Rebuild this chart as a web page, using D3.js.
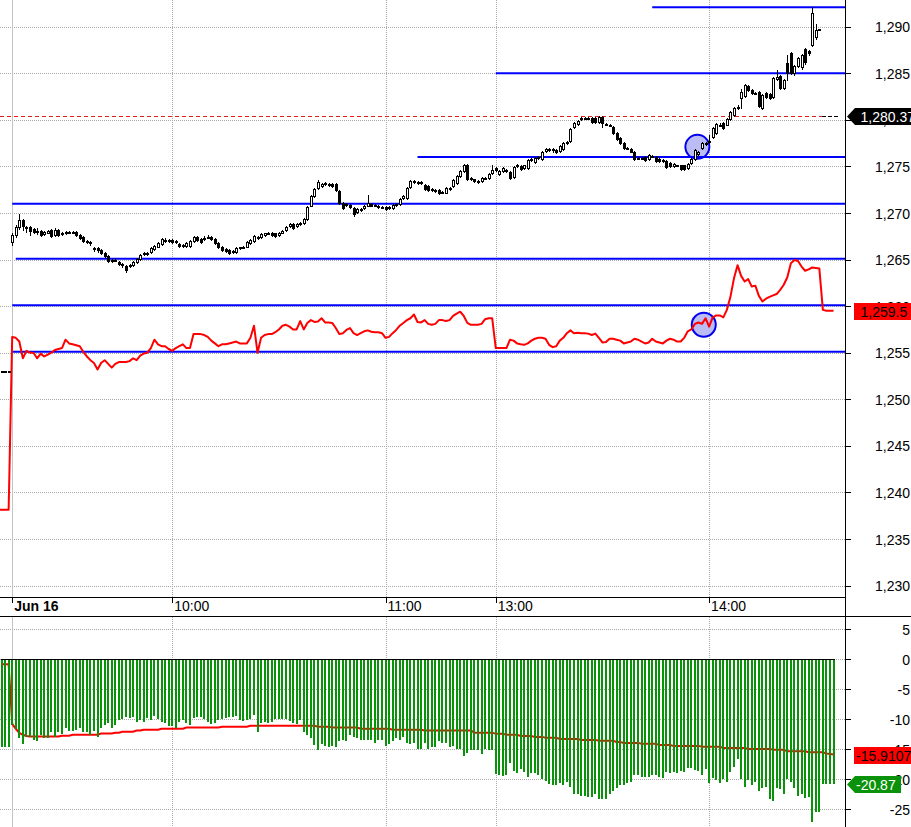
<!DOCTYPE html>
<html><head><meta charset="utf-8">
<script src="https://cdn.jsdelivr.net/npm/d3@7/dist/d3.min.js"></script>
<style>
html,body{margin:0;padding:0;background:#fff;}
svg{display:block;font-family:"Liberation Sans",Arial,sans-serif;}
</style></head><body>
<svg id="chart" width="911" height="827"></svg>
<script>
// ---------------- DATA ----------------
// bar index 0 = 09:15 on Jun 16 (1-minute bars, lunch break 11:30-13:00)
const candleFirstBar = -3;
const candleOpen = [1253.0,1253.0,1253.0,
1266.9,1267.6,1268.5,1269.2,1268.5,1268.5,1268.3,1268.1,1268.1,1267.7,
1267.9,1268.2,1267.6,1268.2,1267.9,1267.8,1268.0,1268.0,1268.0,1267.6,
1267.4,1267.0,1266.9,1266.1,1266.2,1266.0,1265.7,1265.4,1265.0,1265.0,
1264.7,1264.5,1264.3,1264.3,1264.4,1264.7,1265.1,1265.6,1265.7,1265.8,
1266.1,1266.4,1266.7,1267.1,1267.0,1267.1,1266.9,1266.7,1266.5,1266.5,
1266.5,1267.0,1267.4,1267.2,1267.2,1267.4,1267.4,1267.2,1266.8,1266.4,
1266.1,1266.0,1265.8,1265.8,1266.2,1266.3,1266.4,1266.8,1267.0,1267.4,
1267.4,1267.6,1267.8,1267.9,1267.8,1267.6,1267.9,1268.2,1268.6,1268.8,
1268.6,1268.8,1268.9,1269.4,1270.8,1271.8,1272.7,1272.9,1273.1,1273.0,
1273.1,1273.1,1272.4,1271.1,1270.9,1270.9,1270.5,1270.1,1270.4,1270.5,
1270.8,1271.0,1270.9,1270.8,1270.6,1270.6,1270.5,1270.5,1270.9,1271.0,
1271.6,1271.6,1272.8,1273.4,1273.3,1273.2,1273.0,1272.9,1272.6,1272.5,
1272.5,1272.2,1272.2,1272.7,1272.9,1273.2,1274.0,1274.5,1275.2,1273.7,
1273.6,1273.4,1273.4,1273.8,1273.8,1274.3,1274.8,1274.2,1274.5,1274.6,
1274.4,1273.9,1275.2,1275.0,1274.8,1274.8,1275.7,1275.5,1275.9,1275.8,
1276.7,1276.9,1276.9,1276.8,1276.7,1276.9,1277.5,1277.7,1279.2,1279.6,
1280.1,1280.2,1280.2,1280.2,1280.2,1279.8,1280.3,1279.6,1279.5,1279.2,
1278.6,1278.1,1277.5,1277.0,1276.9,1276.6,1275.9,1275.9,1276.0,1275.8,
1276.1,1276.0,1275.8,1275.7,1275.6,1275.4,1275.0,1275.1,1275.1,1275.1,
1274.8,1275.4,1275.8,1276.3,1277.0,1277.5,1277.6,1278.2,1278.6,1279.5,
1279.7,1279.5,1280.1,1280.5,1281.3,1282.3,1282.6,1283.6,1283.2,1282.9,
1283.0,1281.3,1282.9,1282.8,1282.4,1284.4,1284.7,1283.4,1286.1,1287.2,
1285.0,1285.8,1285.7,1287.6,1287.4,1288.0,1288.9,1289.7];
const candleHigh = [1253.0,1253.0,1253.0,
1267.8,1268.7,1269.9,1269.4,1268.6,1268.6,1268.4,1268.4,1268.2,1268.1,
1268.2,1268.3,1268.4,1268.3,1268.0,1268.1,1268.1,1268.1,1268.1,1267.7,
1267.5,1267.1,1267.0,1266.4,1266.4,1266.1,1265.8,1265.5,1265.1,1265.2,
1264.8,1264.6,1264.4,1264.5,1264.8,1265.2,1265.6,1265.8,1265.8,1266.3,
1266.6,1266.9,1267.3,1267.3,1267.2,1267.2,1267.1,1266.8,1266.7,1266.9,
1267.1,1267.5,1267.5,1267.3,1267.5,1267.6,1267.5,1267.3,1266.9,1266.5,
1266.2,1266.1,1266.0,1266.3,1266.4,1266.5,1267.0,1267.2,1267.6,1267.5,
1267.8,1267.9,1268.0,1268.0,1267.9,1268.0,1268.2,1268.6,1268.9,1268.9,
1268.9,1269.0,1269.5,1270.7,1271.9,1272.7,1273.5,1273.2,1273.3,1273.2,
1273.2,1273.2,1272.5,1271.2,1271.1,1271.0,1270.6,1270.5,1270.5,1270.9,
1271.9,1271.1,1271.0,1270.9,1270.7,1270.7,1270.7,1271.0,1271.1,1271.6,
1271.9,1272.8,1273.5,1273.5,1273.4,1273.4,1273.1,1273.0,1272.7,1272.6,
1272.6,1272.4,1272.8,1272.8,1273.6,1274.1,1274.6,1275.3,1275.3,1273.9,
1273.7,1273.5,1273.9,1273.9,1274.3,1275.1,1274.9,1274.6,1274.9,1274.7,
1274.5,1275.0,1275.3,1275.1,1275.2,1275.8,1275.9,1276.0,1276.1,1276.7,
1277.0,1277.0,1277.0,1276.9,1277.3,1277.6,1277.7,1279.1,1279.8,1280.0,
1280.3,1280.3,1280.3,1280.3,1280.3,1280.4,1280.4,1279.7,1279.6,1279.3,
1278.7,1278.2,1277.6,1277.1,1277.0,1276.7,1276.0,1276.0,1276.1,1276.3,
1276.2,1276.1,1275.9,1275.8,1275.7,1275.5,1275.4,1275.2,1275.2,1275.2,
1275.4,1275.9,1276.9,1276.7,1277.6,1277.6,1278.4,1279.2,1279.7,1279.7,
1279.8,1280.2,1280.9,1281.4,1281.6,1283.3,1283.8,1283.7,1283.3,1283.0,
1283.1,1282.8,1283.0,1282.9,1284.6,1285.4,1284.8,1284.4,1287.0,1287.3,
1285.9,1286.7,1287.1,1287.7,1287.5,1292.1,1290.3,1289.8];
const candleLow = [1253.0,1253.0,1253.0,
1266.6,1267.4,1268.3,1268.2,1268.0,1267.6,1267.9,1267.7,1267.5,1267.6,
1267.8,1267.4,1267.5,1267.5,1267.6,1267.7,1267.8,1267.8,1267.5,1267.2,
1266.9,1266.8,1266.6,1265.9,1265.8,1265.6,1265.3,1264.7,1264.7,1264.8,
1264.4,1264.2,1263.7,1264.2,1264.3,1264.6,1265.0,1265.5,1265.5,1265.7,
1266.0,1266.3,1266.6,1266.9,1266.9,1266.8,1266.8,1266.4,1266.3,1266.4,
1266.4,1266.9,1267.0,1266.8,1267.1,1267.3,1267.1,1266.7,1266.2,1265.9,
1265.8,1265.6,1265.7,1265.7,1266.1,1266.2,1266.3,1266.7,1266.9,1267.2,
1267.3,1267.5,1267.7,1267.5,1267.4,1267.5,1267.8,1268.1,1268.5,1268.3,
1268.5,1268.7,1268.8,1269.3,1270.7,1271.7,1272.6,1272.8,1273.0,1272.9,
1272.8,1272.4,1271.0,1270.4,1270.8,1270.5,1269.7,1270.0,1270.2,1270.4,
1270.7,1270.7,1270.8,1270.5,1270.5,1270.3,1270.4,1270.4,1270.8,1270.9,
1271.5,1271.5,1272.7,1273.2,1273.1,1273.1,1272.5,1272.4,1272.4,1272.3,
1272.0,1272.1,1272.1,1272.5,1272.8,1273.1,1273.9,1274.4,1273.5,1273.5,
1273.3,1273.2,1273.3,1273.7,1273.7,1274.2,1274.5,1274.1,1274.4,1274.4,
1273.7,1273.8,1274.9,1274.6,1274.7,1274.7,1275.6,1275.4,1275.8,1275.7,
1276.6,1276.7,1276.6,1276.4,1276.6,1276.8,1277.4,1277.6,1279.1,1279.5,
1280.0,1280.1,1280.1,1279.7,1279.7,1279.7,1279.2,1279.4,1279.3,1278.5,
1277.8,1277.4,1276.9,1276.9,1276.5,1275.7,1275.8,1275.8,1275.6,1275.7,
1276.0,1275.5,1275.5,1275.5,1274.8,1274.9,1274.9,1275.0,1274.6,1274.6,
1274.7,1275.3,1275.7,1276.2,1276.9,1277.3,1277.5,1278.1,1278.5,1279.4,
1279.0,1279.4,1280.0,1280.4,1281.2,1281.3,1282.5,1283.1,1282.8,1282.8,
1281.4,1281.2,1282.3,1282.2,1282.3,1284.3,1283.3,1283.3,1284.3,1284.9,
1284.8,1285.7,1285.5,1286.0,1287.0,1287.9,1288.7,1289.6];
const candleClose = [1253.0,1253.0,1253.0,
1267.6,1268.5,1269.3,1268.6,1268.4,1268.1,1268.0,1268.0,1267.6,1268.0,
1268.1,1267.5,1268.2,1267.6,1267.7,1268.0,1268.0,1267.9,1267.6,1267.3,
1267.0,1266.9,1266.8,1266.2,1266.0,1265.7,1265.4,1264.8,1264.9,1265.0,
1264.5,1264.4,1263.9,1264.4,1264.7,1265.1,1265.5,1265.7,1265.6,1266.2,
1266.5,1266.8,1267.2,1267.0,1267.1,1266.9,1267.0,1266.5,1266.6,1266.8,
1267.0,1267.4,1267.1,1266.9,1267.3,1267.4,1267.2,1266.8,1266.3,1266.0,
1265.9,1265.7,1265.9,1266.2,1266.3,1266.4,1266.9,1267.1,1267.5,1267.3,
1267.7,1267.8,1267.9,1267.6,1267.5,1267.9,1268.1,1268.5,1268.8,1268.4,
1268.8,1268.9,1269.4,1270.6,1271.8,1272.6,1273.3,1273.1,1273.2,1273.1,
1272.9,1272.5,1271.1,1270.5,1271.0,1270.6,1269.9,1270.4,1270.4,1270.8,
1271.1,1270.8,1270.9,1270.6,1270.6,1270.4,1270.6,1270.9,1271.0,1271.5,
1271.8,1272.7,1273.4,1273.3,1273.2,1273.3,1272.6,1272.5,1272.5,1272.5,
1272.1,1272.3,1272.7,1272.7,1273.5,1274.0,1274.5,1275.2,1273.6,1273.8,
1273.4,1273.4,1273.8,1273.8,1274.2,1274.6,1274.6,1274.5,1274.8,1274.5,
1273.8,1274.9,1275.0,1274.7,1275.1,1275.7,1275.8,1275.9,1276.0,1276.6,
1276.9,1276.9,1276.8,1276.5,1277.2,1277.5,1277.6,1279.0,1279.7,1279.9,
1280.2,1280.2,1280.2,1279.8,1279.8,1280.3,1279.7,1279.5,1279.4,1278.6,
1277.9,1277.5,1277.0,1277.0,1276.6,1275.8,1275.9,1275.9,1275.7,1276.2,
1276.1,1275.6,1275.6,1275.7,1274.9,1275.0,1275.3,1275.1,1274.7,1274.7,
1275.3,1275.8,1276.8,1276.6,1277.5,1277.5,1277.7,1279.1,1279.6,1279.5,
1279.1,1280.1,1280.8,1281.3,1281.4,1283.0,1283.7,1283.2,1282.9,1282.9,
1281.5,1282.7,1282.4,1282.3,1284.5,1284.6,1283.4,1284.3,1285.0,1285.0,
1285.8,1286.6,1287.0,1286.2,1287.2,1291.5,1289.6,1289.7];

// second (red) price series, starts at bar -4
const redFirstBar = -4;
const redSeries = [1238.15,1238.15,1238.15,1238.15,
1256.7,1256.6,1256.2,1254.4,1255.2,1255.0,1255.0,1254.4,1254.9,1254.6,
1254.8,1255.0,1255.3,1255.4,1255.5,1256.4,1256.0,1255.9,1255.8,1255.7,
1255.1,1254.6,1254.2,1253.9,1253.2,1253.9,1254.2,1253.8,1253.4,1253.8,
1254.0,1254.0,1254.0,1254.1,1254.4,1254.2,1254.7,1254.9,1255.0,1255.5,
1256.4,1255.9,1255.7,1255.7,1255.4,1255.2,1255.5,1255.7,1255.9,1255.5,
1255.5,1257.0,1257.0,1257.0,1256.9,1256.7,1256.3,1256.0,1255.7,1255.9,
1255.9,1256.0,1256.1,1256.2,1256.0,1256.0,1256.0,1256.6,1257.9,1255.0,
1256.6,1256.9,1257.0,1257.0,1257.2,1257.5,1257.9,1258.0,1257.8,1257.5,
1257.5,1258.4,1257.5,1258.2,1258.5,1258.3,1258.35,1258.7,1258.25,1258.25,
1258.2,1257.65,1257.0,1257.1,1257.45,1257.65,1257.1,1256.9,1257.1,1257.3,
1257.4,1257.25,1257.2,1257.2,1257.1,1256.6,1256.7,1257.1,1257.45,1257.9,
1258.2,1258.5,1258.7,1259.1,1258.3,1258.25,1258.5,1258.1,1258.0,1258.1,
1258.5,1258.5,1258.4,1258.5,1258.95,1259.2,1259.4,1258.95,1258.2,1258.0,
1258.0,1258.0,1258.1,1258.6,1258.7,1258.7,1255.5,1255.5,1255.5,1255.5,
1256.4,1256.3,1256.0,1255.9,1255.85,1256.0,1256.3,1256.5,1256.6,1256.6,
1256.5,1255.85,1255.6,1255.7,1256.3,1256.6,1257.1,1257.4,1257.1,1257.15,
1257.1,1257.1,1257.05,1256.9,1257.05,1256.6,1256.1,1256.15,1256.5,1256.5,
1256.4,1256.3,1256.0,1256.1,1256.2,1256.5,1256.4,1256.2,1256.0,1256.1,
1256.5,1256.2,1256.1,1256.0,1256.3,1256.5,1256.4,1256.2,1256.2,1256.6,
1257.3,1257.5,1258.1,1258.25,1258.1,1258.7,1257.8,1258.8,1259.0,1259.0,
1258.8,1259.6,1261.0,1263.0,1264.4,1263.25,1262.65,1262.9,1262.1,1262.2,
1261.1,1260.5,1260.8,1261.0,1261.15,1261.3,1261.75,1262.3,1263.1,1264.6,
1264.95,1264.85,1264.25,1263.8,1263.95,1264.15,1264.1,1264.05,1259.6,1259.5,1259.5,1259.5];

// lower panel: histogram and its average, starts at bar -3
const lowFirstBar = -3;
const histValues = [-14.7,-14.7,-14.7,
-11.0,-11.7,-13.2,-14.2,-13.0,-12.9,-13.4,-13.6,-12.6,-13.2,
-13.2,-12.2,-13.0,-12.2,-12.5,-11.4,-11.9,-11.9,-11.8,-11.4,
-12.1,-12.2,-12.6,-11.9,-13.0,-11.4,-11.0,-10.7,-11.4,-11.0,
-10.2,-10.0,-9.6,-9.85,-9.7,-10.4,-10.2,-10.4,-9.85,-10.1,
-9.5,-10.0,-10.4,-10.7,-11.2,-11.1,-11.4,-10.4,-10.2,-10.6,
-11.0,-9.85,-9.7,-9.7,-10.0,-10.4,-10.8,-10.6,-10.1,-10.0,
-9.85,-9.7,-9.6,-9.5,-10.1,-10.35,-10.2,-10.0,-9.3,-12.1,
-10.7,-10.4,-10.6,-10.4,-10.0,-9.9,-9.9,-10.0,-10.3,-10.7,
-10.85,-10.2,-12.1,-12.6,-13.1,-14.3,-15.1,-14.1,-14.5,-14.7,
-14.5,-14.7,-13.7,-13.5,-13.7,-12.6,-12.9,-13.2,-13.5,-13.5,
-13.5,-13.5,-13.9,-13.5,-13.5,-14.4,-14.1,-13.7,-13.1,-13.5,
-12.9,-13.9,-14.2,-13.9,-15.0,-14.9,-13.9,-14.9,-14.6,-14.6,
-13.6,-13.9,-13.9,-14.7,-14.5,-15.0,-14.9,-16.1,-15.6,-15.2,
-15.2,-15.2,-15.8,-14.9,-15.2,-15.2,-19.1,-19.3,-19.4,-19.3,
-17.25,-18.6,-18.9,-18.25,-18.75,-19.6,-19.0,-19.0,-19.25,-19.9,
-20.3,-20.8,-21.0,-21.0,-20.7,-20.9,-20.4,-21.3,-22.5,-22.4,
-22.8,-22.8,-22.9,-23.0,-22.4,-23.3,-23.3,-23.3,-22.5,-21.9,
-21.4,-21.0,-21.0,-20.7,-20.4,-19.25,-19.25,-19.6,-19.6,-19.7,
-19.25,-19.25,-19.6,-19.75,-18.75,-18.9,-18.75,-18.9,-18.6,-18.75,
-18.1,-18.1,-18.4,-18.6,-19.3,-18.25,-20.6,-19.75,-20.1,-20.6,
-19.9,-20.4,-18.75,-17.9,-16.7,-19.9,-21.3,-20.1,-20.9,-20.4,
-21.9,-21.4,-21.3,-23.3,-23.6,-21.5,-21.6,-22.5,-19.9,-20.4,
-21.5,-22.8,-22.5,-23.2,-22.9,-27.1,-25.4,-25.4,-20.87,-20.87,-20.87,-20.87];
const avgValues = [-0.85,-0.85,-0.85,
-10.8,-11.6,-12.3,-12.6,-12.8,-12.9,-12.9,-12.9,-12.9,-12.9,
-12.9,-12.9,-12.9,-12.9,-12.75,-12.75,-12.75,-12.6,-12.6,-12.6,
-12.6,-12.6,-12.6,-12.6,-12.6,-12.4,-12.4,-12.4,-12.4,-12.25,
-12.25,-12.1,-12.1,-12.1,-12.1,-11.9,-11.9,-11.75,-11.75,-11.75,
-11.75,-11.75,-11.6,-11.6,-11.6,-11.6,-11.6,-11.6,-11.6,-11.4,
-11.4,-11.4,-11.4,-11.4,-11.4,-11.4,-11.4,-11.4,-11.4,-11.25,
-11.25,-11.25,-11.25,-11.25,-11.25,-11.25,-11.25,-11.1,-11.1,-11.1,
-11.1,-11.1,-11.1,-11.1,-11.1,-11.1,-11.1,-11.1,-11.1,-11.1,
-11.1,-11.1,-11.1,-11.1,-11.1,-11.1,-11.25,-11.25,-11.25,-11.25,
-11.4,-11.4,-11.4,-11.4,-11.4,-11.4,-11.4,-11.4,-11.6,-11.6,
-11.6,-11.6,-11.6,-11.6,-11.6,-11.6,-11.6,-11.75,-11.75,-11.75,
-11.75,-11.75,-11.75,-11.75,-11.75,-11.75,-11.9,-11.9,-11.9,-11.9,
-11.9,-11.9,-11.9,-11.9,-11.9,-11.9,-11.9,-11.9,-11.9,-11.9,
-12.25,-12.25,-12.25,-12.25,-12.25,-12.25,-12.45,-12.45,-12.45,-12.6,
-12.6,-12.6,-12.6,-12.8,-12.8,-12.8,-12.8,-12.95,-12.95,-12.95,
-13.1,-13.1,-13.1,-13.1,-13.3,-13.3,-13.3,-13.3,-13.3,-13.3,
-13.45,-13.45,-13.45,-13.45,-13.45,-13.6,-13.6,-13.6,-13.6,-13.6,
-13.8,-13.8,-13.95,-13.95,-13.95,-13.95,-13.95,-14.1,-14.1,-14.1,
-14.1,-14.1,-14.3,-14.3,-14.3,-14.3,-14.45,-14.45,-14.45,-14.45,
-14.45,-14.45,-14.45,-14.45,-14.6,-14.6,-14.6,-14.6,-14.6,-14.6,
-14.8,-14.8,-14.8,-14.8,-14.8,-14.8,-14.8,-14.95,-14.95,-14.95,
-14.95,-14.95,-14.95,-14.95,-15.1,-15.1,-15.1,-15.1,-15.35,-15.35,
-15.35,-15.35,-15.35,-15.35,-15.5,-15.5,-15.5,-15.5,-15.5,-15.7,-15.8,-15.9];

// horizontal level lines (value, first bar)
const levelValues = [1292.1, 1285.0, 1276.0, 1271.0, 1265.1, 1260.1, 1255.1];
const levelStartBars = [180, 136, 114, 0, 1, 0, 0];
// circled marks (bar, value)
const markBars = [192.7, 194.5];
const markValues = [1277.1, 1258.0];

// axes
const mainTicks = [1230,1235,1240,1245,1250,1255,1260,1265,1270,1275,1280,1285,1290];
const lowTicks = [5,0,-5,-10,-15,-20,-25];
const timeTickBars = [0, 45, 105, 136, 196];
const timeTickLabels = ["Jun 16","10:00","11:00","13:00","14:00"];

// last-value tags
const lastPrice = 1280.37;
const redLast = 1259.5;
const avgLast = -15.9107;
const histLast = -20.87;

// ---------------- DRAW ----------------
const W = 911, H = 827, axisX = 845;
const mainBottom = 597, bandBottom = 616, lowTop = 617;

const x = d3.scaleLinear().domain([0, 196]).range([12.2, 709.1]);
const yMain = d3.scaleLinear().domain([1230, 1290]).range([585.6, 26.7]);
const yLow = d3.scaleLinear().domain([-25, 5]).range([809.3, 629.0]);

const svg = d3.select("#chart");
svg.append("rect").attr("width", W).attr("height", H).attr("fill", "#fff");
const defs = svg.append("defs");
defs.append("clipPath").attr("id","clipMain").append("rect")
  .attr("x",0).attr("y",0).attr("width",axisX).attr("height",mainBottom);
defs.append("clipPath").attr("id","clipLow").append("rect")
  .attr("x",0).attr("y",lowTop).attr("width",axisX).attr("height",H-lowTop);

const px = v => Math.round(v) + 0.5;
const gridColor = "#a9a9a9";

// gridlines
const grid = svg.append("g").attr("shape-rendering","crispEdges");
grid.selectAll("line.hm").data(mainTicks).join("line")
  .attr("x1",0).attr("x2",axisX).attr("y1",d=>px(yMain(d))).attr("y2",d=>px(yMain(d)))
  .attr("stroke",gridColor).attr("stroke-dasharray","1,1");
grid.selectAll("line.hl").data(lowTicks).join("line")
  .attr("x1",0).attr("x2",axisX).attr("y1",d=>px(yLow(d))).attr("y2",d=>px(yLow(d)))
  .attr("stroke",gridColor).attr("stroke-dasharray","1,1");
const vTicks = timeTickBars.slice(1);
[[0,mainBottom],[lowTop,H]].forEach(([y1,y2])=>{
  grid.selectAll(null).data(vTicks).join("line")
    .attr("x1",d=>px(x(d))).attr("x2",d=>px(x(d))).attr("y1",y1).attr("y2",y2)
    .attr("stroke",gridColor).attr("stroke-dasharray","1,1");
  grid.append("line").attr("x1",px(x(timeTickBars[0]))-0.5).attr("x2",px(x(timeTickBars[0]))-0.5)
    .attr("y1",y1).attr("y2",y2).attr("stroke","#c4c4c4");
});

// main panel
const main = svg.append("g").attr("clip-path","url(#clipMain)");
main.selectAll("circle.mk").data(markBars.map((b,i)=>({b, v: markValues[i]}))).join("circle")
  .attr("cx",d=>x(d.b)).attr("cy",d=>yMain(d.v)).attr("r",12)
  .attr("fill","#bcbcf4").attr("stroke","#0000ee").attr("stroke-width",2);
main.selectAll("line.lv").data(levelValues.map((v,i)=>({v, s: levelStartBars[i]}))).join("line")
  .attr("x1",d=>x(d.s)).attr("x2",axisX).attr("y1",d=>yMain(d.v)).attr("y2",d=>yMain(d.v))
  .attr("stroke","#0000ff").attr("stroke-width",2);
const lpY = px(yMain(lastPrice));
main.append("line").attr("x1",0).attr("x2",822).attr("y1",lpY).attr("y2",lpY)
  .attr("stroke","#dd2020").attr("stroke-dasharray","4,3");
main.append("line").attr("x1",822).attr("x2",838).attr("y1",lpY).attr("y2",lpY)
  .attr("stroke","#000").attr("stroke-dasharray","4,2");
const redData = redSeries.map((v,k)=>({bar: redFirstBar+k, v}));
main.append("path").datum(redData)
  .attr("d", d3.line().x(d=>x(d.bar)).y(d=>yMain(d.v)))
  .attr("fill","none").attr("stroke","#ff0000").attr("stroke-width",2).attr("stroke-linejoin","round");
const candles = candleOpen.map((o,k)=>({bar: candleFirstBar+k, o, h: candleHigh[k], l: candleLow[k], c: candleClose[k]}));
const cg = main.append("g").attr("shape-rendering","crispEdges");
cg.selectAll("line.wick").data(candles).join("line")
  .attr("x1",d=>Math.round(x(d.bar))+0.5).attr("x2",d=>Math.round(x(d.bar))+0.5)
  .attr("y1",d=>Math.round(yMain(d.h))).attr("y2",d=>Math.round(yMain(d.l))+1)
  .attr("stroke","#000");
cg.selectAll("rect.body").data(candles).join("rect")
  .attr("x",d=>Math.round(x(d.bar))-0.5).attr("width",2)
  .attr("y",d=>Math.round(yMain(Math.max(d.o,d.c)))+0.5)
  .attr("height",d=>Math.max(1, Math.round(yMain(Math.min(d.o,d.c))) - Math.round(yMain(Math.max(d.o,d.c)))))
  .attr("fill",d=>d.c>=d.o?"#fff":"#000").attr("stroke","#000");

// lower panel
const low = svg.append("g").attr("clip-path","url(#clipLow)");
const avgData = avgValues.map((v,k)=>({bar: lowFirstBar+k, v}));
low.append("path").datum(avgData)
  .attr("d", d3.line().x(d=>x(d.bar)).y(d=>yLow(d.v)))
  .attr("fill","none").attr("stroke","#ff0000").attr("stroke-width",2);
const histData = histValues.map((v,k)=>({bar: lowFirstBar+k, v}));
const y0 = Math.round(yLow(0));
low.append("g").attr("shape-rendering","crispEdges")
  .selectAll("rect").data(histData).join("rect")
  .attr("x",d=>Math.round(x(d.bar))-1).attr("width",2)
  .attr("y",y0).attr("height",d=>Math.round(yLow(d.v))-y0)
  .attr("fill","#0a930a");
low.append("line").attr("shape-rendering","crispEdges")
  .attr("x1",Math.round(x(lowFirstBar))-1).attr("x2",Math.round(x(lowFirstBar+histValues.length-1))+1)
  .attr("y1",y0+0.5).attr("y2",y0+0.5).attr("stroke","#000");

// frame lines
const frame = svg.append("g").attr("shape-rendering","crispEdges").attr("stroke","#000");
frame.append("line").attr("x1",0).attr("x2",axisX).attr("y1",mainBottom+0.5).attr("y2",mainBottom+0.5);
frame.append("line").attr("x1",0).attr("x2",W).attr("y1",bandBottom+0.5).attr("y2",bandBottom+0.5);
frame.append("line").attr("x1",axisX+0.5).attr("x2",axisX+0.5).attr("y1",0).attr("y2",H);

// axes
const fontSize = "14px";
const gMainAxis = svg.append("g").attr("transform",`translate(${axisX+0.5},0)`)
  .call(d3.axisRight(yMain).tickValues(mainTicks).tickFormat(d3.format(",")).tickSizeInner(5).tickSizeOuter(0));
const gLowAxis = svg.append("g").attr("transform",`translate(${axisX+0.5},0)`)
  .call(d3.axisRight(yLow).tickValues(lowTicks).tickFormat(d=>String(d)).tickSizeInner(5).tickSizeOuter(0));
[gMainAxis,gLowAxis].forEach(g=>{
  g.select(".domain").remove();
  g.selectAll(".tick line").attr("stroke","#000").attr("shape-rendering","crispEdges");
  g.selectAll(".tick text").attr("x",64.5).attr("text-anchor","end").attr("dy","0.36em")
    .attr("fill","#000").style("font-size",fontSize).style("font-family","'Liberation Sans',Arial,sans-serif");
});
const gTime = svg.append("g").attr("transform",`translate(0,${mainBottom+0.5})`)
  .call(d3.axisBottom(x).tickValues(timeTickBars).tickFormat((d,i)=>timeTickLabels[i]).tickSizeInner(5).tickSizeOuter(0));
gTime.select(".domain").remove();
gTime.selectAll(".tick line").attr("stroke","#000").attr("shape-rendering","crispEdges");
gTime.selectAll(".tick text").attr("x",1.5).attr("y",4).attr("dy","0.71em").attr("text-anchor","start")
  .attr("fill","#000").style("font-size",fontSize).style("font-family","'Liberation Sans',Arial,sans-serif")
  .style("font-weight",(d,i)=>i===0?"bold":"normal");

// value tags
const tags = svg.append("g").style("font-size",fontSize).style("font-family","'Liberation Sans',Arial,sans-serif");
function arrowTag(yc, fill, textFill, text, right, tx) {
  const t = Math.round(yc);
  tags.append("path")
    .attr("d",`M847,${t+0.5}L855,${t-8}L${right},${t-8}L${right},${t+9}L855,${t+9}Z`)
    .attr("fill",fill);
  tags.append("text").attr("x",tx).attr("y",t+0.5).attr("dy","0.36em").attr("fill",textFill).text(text);
}
function boxTag(yc, fill, textFill, text, tx) {
  const t = Math.round(yc);
  tags.append("rect").attr("x",854).attr("y",t-8).attr("width",W-854).attr("height",17).attr("fill",fill);
  tags.append("text").attr("x",tx).attr("y",t+0.5).attr("dy","0.36em").attr("fill",textFill).text(text);
}
arrowTag(yMain(lastPrice), "#000", "#fff", d3.format(",.2f")(lastPrice), W, 860.5);
boxTag(yMain(redLast), "#ff0000", "#000", d3.format(",.1f")(redLast), 860.5);
boxTag(yLow(avgLast), "#ff0000", "#000", String(avgLast), 856);
arrowTag(yLow(histLast), "#0a930a", "#fff", String(histLast), 901, 856);
</script>
</body></html>
